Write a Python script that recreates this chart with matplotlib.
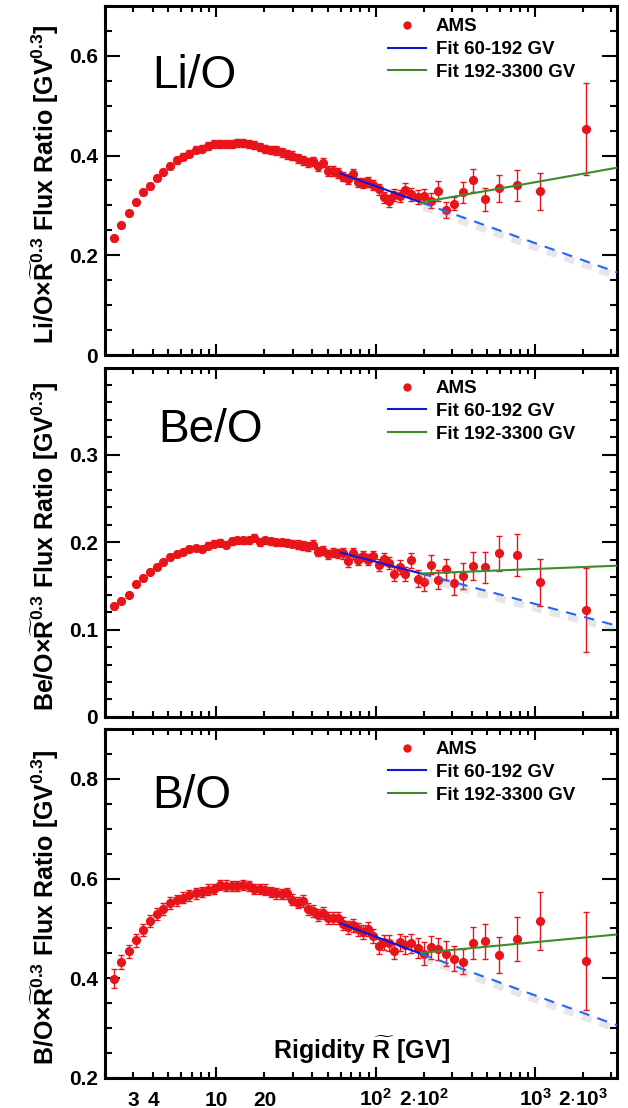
import matplotlib
matplotlib.use("Agg")
import matplotlib.pyplot as plt
import matplotlib.ticker as ticker
import matplotlib.patheffects as pe
from matplotlib.lines import Line2D

# rigidity bin centres [GV]
rigidity = [2.27, 2.53, 2.82, 3.13, 3.46, 3.83, 4.22, 4.65, 5.12, 5.63, 6.18, 6.77, 7.42, 8.11, 8.86, 9.67,
            10.5, 11.5, 12.5, 13.5, 14.7, 15.9, 17.3, 18.7, 20.3, 21.9, 23.7, 25.7, 27.7, 29.9, 32.3, 34.8,
            37.5, 40.4, 43.5, 46.8, 50.3, 54.1, 58.2, 62.5, 67.2, 72.3, 77.6, 83.4, 89.7, 96.4,
            104, 112, 120, 130, 141, 153, 167, 183,
            201, 222, 246, 275, 310, 354, 409, 481, 589, 762, 1070, 2070]

li_o = [0.234, 0.260, 0.284, 0.306, 0.326, 0.339, 0.355, 0.367, 0.379, 0.391, 0.398, 0.404, 0.412, 0.414, 0.420, 0.423,
        0.423, 0.423, 0.423, 0.425, 0.425, 0.423, 0.421, 0.418, 0.413, 0.411,
        0.411, 0.407, 0.403, 0.400, 0.395, 0.391, 0.387, 0.389, 0.379, 0.386,
        0.369, 0.369, 0.365, 0.358, 0.353, 0.363, 0.346, 0.345, 0.347, 0.340,
        0.332, 0.316, 0.309, 0.320, 0.319, 0.331, 0.322, 0.316,
        0.318, 0.309, 0.328, 0.290, 0.303, 0.326, 0.350, 0.312, 0.334, 0.340, 0.328, 0.453]
li_o_err = [0.005, 0.005, 0.005, 0.005, 0.005, 0.006, 0.006, 0.006, 0.006, 0.007, 0.007, 0.007, 0.007, 0.007, 0.008, 0.008,
            0.008, 0.008, 0.008, 0.008, 0.008, 0.008, 0.008, 0.008, 0.008, 0.008,
            0.009, 0.009, 0.009, 0.009, 0.009, 0.009, 0.009, 0.009, 0.009, 0.009,
            0.010, 0.010, 0.010, 0.010, 0.010, 0.010, 0.010, 0.010, 0.010, 0.010,
            0.011, 0.011, 0.012, 0.012, 0.012, 0.013, 0.013, 0.014,
            0.014, 0.015, 0.020, 0.016, 0.013, 0.021, 0.023, 0.023, 0.027, 0.031, 0.037, 0.092]

be_o = [0.127, 0.133, 0.140, 0.152, 0.159, 0.166, 0.172, 0.177, 0.183, 0.186, 0.189, 0.192, 0.193, 0.192, 0.196, 0.198,
        0.199, 0.197, 0.201, 0.202, 0.202, 0.202, 0.205, 0.200, 0.202, 0.201,
        0.200, 0.200, 0.199, 0.198, 0.197, 0.196, 0.195, 0.197, 0.189, 0.190,
        0.186, 0.188, 0.187, 0.187, 0.178, 0.187, 0.180, 0.184, 0.180, 0.184,
        0.174, 0.181, 0.176, 0.163, 0.171, 0.163, 0.179, 0.158,
        0.154, 0.174, 0.157, 0.169, 0.153, 0.161, 0.173, 0.171, 0.187, 0.185, 0.154, 0.122]
be_o_err = [0.003, 0.003, 0.003, 0.003, 0.003, 0.003, 0.003, 0.003, 0.003, 0.003, 0.003, 0.003, 0.003, 0.003, 0.004, 0.004,
            0.004, 0.004, 0.004, 0.004, 0.004, 0.004, 0.004, 0.004, 0.004, 0.004,
            0.004, 0.004, 0.004, 0.004, 0.005, 0.005, 0.005, 0.005, 0.005, 0.005,
            0.005, 0.005, 0.005, 0.006, 0.006, 0.006, 0.006, 0.006, 0.006, 0.006,
            0.007, 0.007, 0.007, 0.008, 0.008, 0.008, 0.009, 0.0095,
            0.010, 0.011, 0.011, 0.012, 0.013, 0.0145, 0.016, 0.018, 0.020, 0.024, 0.027, 0.048]

b_o = [0.399, 0.432, 0.454, 0.476, 0.496, 0.514, 0.529, 0.539, 0.551, 0.556, 0.561, 0.566, 0.570, 0.573, 0.578, 0.579,
       0.587, 0.586, 0.585, 0.585, 0.587, 0.585, 0.579, 0.579, 0.578, 0.573,
       0.570, 0.569, 0.570, 0.557, 0.551, 0.554, 0.539, 0.534, 0.527, 0.531,
       0.520, 0.520, 0.520, 0.509, 0.502, 0.506, 0.498, 0.492, 0.498, 0.484,
       0.464, 0.472, 0.471, 0.454, 0.472, 0.466, 0.470, 0.461,
       0.449, 0.462, 0.459, 0.449, 0.439, 0.433, 0.470, 0.474, 0.446, 0.478, 0.514, 0.434]
b_o_err = [0.019, 0.014, 0.013, 0.013, 0.012, 0.012, 0.012, 0.012, 0.012, 0.011, 0.011, 0.011, 0.011, 0.011, 0.011, 0.011,
           0.011, 0.011, 0.011, 0.011, 0.011, 0.011, 0.011, 0.011, 0.011, 0.011,
           0.011, 0.011, 0.011, 0.011, 0.011, 0.012, 0.012, 0.012, 0.012, 0.012,
           0.012, 0.012, 0.012, 0.013, 0.013, 0.013, 0.013, 0.014, 0.014, 0.014,
           0.015, 0.015, 0.016, 0.016, 0.017, 0.018, 0.019, 0.020,
           0.023, 0.023, 0.022, 0.025, 0.025, 0.025, 0.032, 0.035, 0.036, 0.044, 0.058, 0.098]

# fit lines: blue at 60, 192, 3300 GV ; green at 192, 3300 GV
fit_r_blue = [60, 192, 3300]
fit_r_green = [192, 3300]
li_o_blue = [0.364, 0.306, 0.165]
li_o_green = [0.306, 0.376]
be_o_blue = [0.188, 0.164, 0.104]
be_o_green = [0.164, 0.173]
b_o_blue = [0.510, 0.449, 0.305]
b_o_green = [0.451, 0.488]

plt.rcParams['font.family'] = 'Liberation Sans'
plt.rcParams['font.weight'] = 'bold'
plt.rcParams['mathtext.fontset'] = 'custom'
plt.rcParams['mathtext.rm'] = 'Liberation Sans:bold'
plt.rcParams['mathtext.bf'] = 'Liberation Sans:bold'
plt.rcParams['mathtext.it'] = 'Liberation Sans:bold:italic'
plt.rcParams['mathtext.default'] = 'bf'

red = "#e8141a"
blue = "#1515d5"
blue_dash = "#2266ff"
green = "#3d8b2b"

fig = plt.figure(figsize=(6.28, 11.08), dpi=100)

panels = [
    ("Li/O", li_o, li_o_err, li_o_blue, li_o_green, (0, 0.7), 0.2, 0.05, 0.6796, (0.092, 0.765)),
    ("Be/O", be_o, be_o_err, be_o_blue, be_o_green, (0, 0.399), 0.1, 0.02, 0.3529, (0.104, 0.788)),
    ("B/O", b_o, b_o_err, b_o_blue, b_o_green, (0.2, 0.9), 0.2, 0.05, 0.0271, (0.092, 0.774)),
]

minor_pos = [m * d for d in [1, 10, 100, 1000] for m in range(2, 10) if 2 <= m * d <= 3300]
minor_names = {3: "3", 4: "4", 20: "20", 200: r"2$\cdot$10$^{2}$", 2000: r"2$\cdot$10$^{3}$"}
minor_lab = [minor_names.get(p, "") for p in minor_pos]

for i, (name, y, yerr, fb, fg, ylim, maj, mnr, bottom, txtpos) in enumerate(panels):
    ax = fig.add_axes([0.1672, bottom, 0.8153, 0.315])
    ax.set_xscale("log")

    ax.errorbar(rigidity, y, yerr=yerr, fmt="o", color=red, ms=5.6, elinewidth=1,
                capsize=2.2, capthick=1, zorder=3)
    ax.plot(fit_r_blue[:2], fb[:2], color=blue, lw=1.5, zorder=4)
    ax.plot(fit_r_blue[1:], fb[1:], color=blue_dash, lw=1.5, dashes=(5, 4), zorder=4,
            path_effects=[pe.SimpleLineShadow(offset=(1.5, -3.5), shadow_color="#888888", alpha=0.2, linewidth=5),
                          pe.Normal()])
    ax.plot(fit_r_green, fg, color=green, lw=1.5, zorder=4)

    ax.set_xlim(2.05, 3250)
    ax.set_ylim(*ylim)
    ax.yaxis.set_major_locator(ticker.MultipleLocator(maj))
    ax.yaxis.set_minor_locator(ticker.MultipleLocator(mnr))
    ax.yaxis.set_major_formatter(ticker.FormatStrFormatter("%g"))

    ax.set_xticks([10, 100, 1000], ["10", r"10$^{2}$", r"10$^{3}$"])
    ax.set_xticks(minor_pos, minor_lab, minor=True)

    ax.tick_params(axis="both", which="both", direction="in", top=True, right=True, width=1.5)
    ax.tick_params(axis="y", which="major", length=11, labelsize=15, pad=5)
    ax.tick_params(axis="y", which="minor", length=5)
    ax.tick_params(axis="x", which="major", length=8)
    ax.tick_params(axis="x", which="minor", length=4.5)
    ax.tick_params(axis="x", which="both", labelsize=15, pad=20, labelbottom=(i == 2))
    for t in ax.xaxis.get_major_ticks() + ax.xaxis.get_minor_ticks():
        t.label1.set_verticalalignment("baseline")
    for s in ax.spines.values():
        s.set_linewidth(2.2)

    ax.text(txtpos[0], txtpos[1], name, transform=ax.transAxes, fontsize=33,
            fontweight="normal", va="baseline", ha="left")
    ax.set_ylabel(name + r"$\times\widetilde{R}^{0.3}$ Flux Ratio [GV$^{0.3}$]", fontsize=18, fontweight="bold")
    ax.yaxis.set_label_coords(-0.085, 0.49)

    handles = [Line2D([], [], marker="o", ls="none", color=red, ms=5),
               Line2D([], [], color=blue, lw=1.5),
               Line2D([], [], color=green, lw=1.5)]
    ax.legend(handles, ["AMS", "Fit 60-192 GV", "Fit 192-3300 GV"], loc="upper left",
              bbox_to_anchor=(0.553, 0.965), frameon=False, fontsize=13.5, handlelength=2.0,
              handletextpad=0.55, labelspacing=0.3, borderpad=0, borderaxespad=0)

    if i == 2:
        ax.text(0.5, 0.054, r"Rigidity $\widetilde{R}$ [GV]", transform=ax.transAxes, ha="center",
                va="baseline", fontsize=18, fontweight="bold")

fig.savefig("out.png", dpi=100)
